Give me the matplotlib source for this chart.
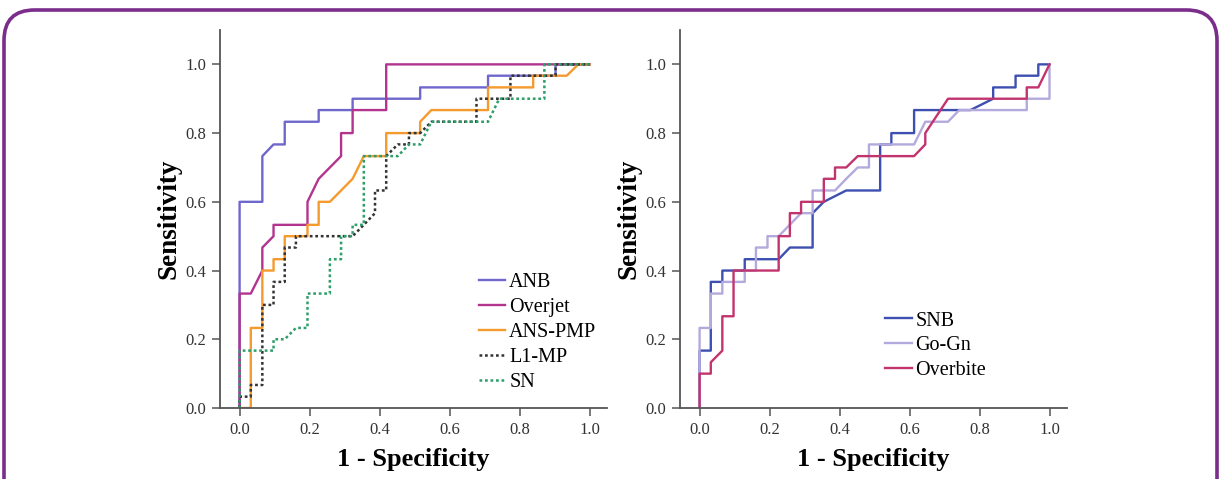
import matplotlib
matplotlib.use('Agg')
import matplotlib.pyplot as plt
from matplotlib.patches import FancyBboxPatch

plt.rcParams['font.family'] = ['Liberation Serif', 'DejaVu Serif']

# left panel: ROC points (1 - specificity, sensitivity)
anb_fpr = [0, 0, 0.065, 0.065, 0.097, 0.129, 0.129, 0.226, 0.226, 0.323, 0.323, 0.516, 0.516, 0.710, 0.710, 0.903, 0.903, 1.0]
anb_tpr = [0, 0.6, 0.6, 0.733, 0.767, 0.767, 0.833, 0.833, 0.867, 0.867, 0.9, 0.9, 0.933, 0.933, 0.967, 0.967, 1.0, 1.0]

overjet_fpr = [0, 0, 0.032, 0.065, 0.065, 0.097, 0.097, 0.194, 0.194, 0.226, 0.290, 0.290, 0.323, 0.323, 0.419, 0.419, 1.0]
overjet_tpr = [0, 0.333, 0.333, 0.4, 0.467, 0.5, 0.533, 0.533, 0.6, 0.667, 0.733, 0.8, 0.8, 0.867, 0.867, 1.0, 1.0]

anspmp_fpr = [0, 0.032, 0.032, 0.065, 0.065, 0.097, 0.097, 0.129, 0.129, 0.194, 0.194, 0.226, 0.226, 0.258,
              0.323, 0.355, 0.419, 0.419, 0.516, 0.516, 0.548, 0.710, 0.710, 0.839, 0.839, 0.935, 0.968, 1.0]
anspmp_tpr = [0, 0, 0.233, 0.233, 0.4, 0.4, 0.433, 0.433, 0.5, 0.5, 0.533, 0.533, 0.6, 0.6,
              0.667, 0.733, 0.733, 0.8, 0.8, 0.833, 0.867, 0.867, 0.933, 0.933, 0.967, 0.967, 1.0, 1.0]

l1mp_fpr = [0, 0, 0.032, 0.032, 0.065, 0.065, 0.097, 0.097, 0.129, 0.129, 0.161, 0.161, 0.323, 0.355, 0.387,
            0.387, 0.419, 0.419, 0.452, 0.484, 0.484, 0.516, 0.548, 0.677, 0.677, 0.774, 0.774, 0.903, 0.903, 1.0]
l1mp_tpr = [0, 0.033, 0.033, 0.067, 0.067, 0.3, 0.3, 0.367, 0.367, 0.467, 0.467, 0.5, 0.5, 0.533, 0.567,
            0.633, 0.633, 0.733, 0.767, 0.767, 0.8, 0.8, 0.833, 0.833, 0.9, 0.9, 0.967, 0.967, 1.0, 1.0]

sn_fpr = [0, 0, 0.097, 0.097, 0.129, 0.161, 0.194, 0.194, 0.258, 0.258, 0.290, 0.290, 0.323, 0.323,
          0.355, 0.355, 0.452, 0.484, 0.516, 0.548, 0.710, 0.742, 0.871, 0.871, 1.0]
sn_tpr = [0, 0.167, 0.167, 0.2, 0.2, 0.233, 0.233, 0.333, 0.333, 0.433, 0.433, 0.5, 0.5, 0.533,
          0.533, 0.733, 0.733, 0.767, 0.767, 0.833, 0.833, 0.9, 0.9, 1.0, 1.0]

# right panel
snb_fpr = [0, 0, 0.032, 0.032, 0.065, 0.065, 0.129, 0.129, 0.226, 0.258, 0.323, 0.323, 0.355, 0.419,
           0.516, 0.516, 0.548, 0.548, 0.613, 0.613, 0.774, 0.839, 0.839, 0.903, 0.903, 0.968, 0.968, 1.0]
snb_tpr = [0, 0.167, 0.167, 0.367, 0.367, 0.4, 0.4, 0.433, 0.433, 0.467, 0.467, 0.567, 0.6, 0.633,
           0.633, 0.767, 0.767, 0.8, 0.8, 0.867, 0.867, 0.9, 0.933, 0.933, 0.967, 0.967, 1.0, 1.0]

gogn_fpr = [0, 0, 0.032, 0.032, 0.065, 0.065, 0.129, 0.129, 0.161, 0.161, 0.194, 0.194, 0.226, 0.290, 0.323,
            0.323, 0.387, 0.419, 0.452, 0.484, 0.484, 0.613, 0.645, 0.710, 0.742, 0.935, 0.935, 1.0, 1.0]
gogn_tpr = [0, 0.233, 0.233, 0.333, 0.333, 0.367, 0.367, 0.4, 0.4, 0.467, 0.467, 0.5, 0.5, 0.567, 0.567,
            0.633, 0.633, 0.667, 0.7, 0.7, 0.767, 0.767, 0.833, 0.833, 0.867, 0.867, 0.9, 0.9, 1.0]

overbite_fpr = [0, 0, 0.032, 0.032, 0.065, 0.065, 0.097, 0.097, 0.226, 0.226, 0.258, 0.258, 0.290, 0.290,
                0.355, 0.355, 0.387, 0.387, 0.419, 0.452, 0.613, 0.645, 0.645, 0.710, 0.935, 0.935, 0.968, 1.0]
overbite_tpr = [0, 0.1, 0.1, 0.133, 0.167, 0.267, 0.267, 0.4, 0.4, 0.5, 0.5, 0.567, 0.567, 0.6,
                0.6, 0.667, 0.667, 0.7, 0.7, 0.733, 0.733, 0.767, 0.8, 0.9, 0.9, 0.933, 0.933, 1.0]

ticks = [0.0, 0.2, 0.4, 0.6, 0.8, 1.0]
tick_labels = ['0.0', '0.2', '0.4', '0.6', '0.8', '1.0']

W, H = 1221, 479
fig = plt.figure(figsize=(W / 100, H / 100), dpi=100)

# rounded purple frame
frame = FancyBboxPatch((4 / W, -40 / H), 1213 / W, (H - 10 + 40) / H,
                       boxstyle='round,pad=0,rounding_size=0.025', transform=fig.transFigure,
                       fill=False, edgecolor='#7b2d8b', linewidth=2.6, mutation_aspect=W / H)
fig.patches.append(frame)

ax1 = fig.add_axes([220 / W, (H - 408) / H, 387 / W, 378 / H])
ax2 = fig.add_axes([680 / W, (H - 408) / H, 387 / W, 378 / H])

dot = (0, (1.1, 1.1))
ax1.plot(anb_fpr, anb_tpr, color='#6f67cc', lw=1.7, label='ANB')
ax1.plot(overjet_fpr, overjet_tpr, color='#b3348f', lw=1.7, label='Overjet')
ax1.plot(anspmp_fpr, anspmp_tpr, color='#f59a2c', lw=1.7, label='ANS-PMP')
ax1.plot(l1mp_fpr, l1mp_tpr, color='#333333', lw=1.8, ls=dot, label='L1-MP')
ax1.plot(sn_fpr, sn_tpr, color='#2e9e6a', lw=1.8, ls=dot, label='SN')

ax2.plot(snb_fpr, snb_tpr, color='#3d4fb0', lw=1.7, label='SNB')
ax2.plot(gogn_fpr, gogn_tpr, color='#b4a9dc', lw=1.7, label='Go-Gn')
ax2.plot(overbite_fpr, overbite_tpr, color='#c2346e', lw=1.7, label='Overbite')

for ax in (ax1, ax2):
    ax.set_xlim(-0.056, 1.05)
    ax.set_ylim(0, 1.1)
    ax.set_xticks(ticks)
    ax.set_xticklabels(tick_labels)
    ax.set_yticks(ticks)
    ax.set_yticklabels(tick_labels)
    ax.spines['top'].set_visible(False)
    ax.spines['right'].set_visible(False)
    for s in ('left', 'bottom'):
        ax.spines[s].set_color('#555555')
        ax.spines[s].set_linewidth(1.3)
    ax.tick_params(direction='out', length=6, width=1.1, color='#555555',
                   labelsize=12, labelcolor='#333333', pad=4)
    ax.set_xlabel('1 - Specificity', fontsize=19, fontweight='bold', labelpad=7)
    ax.set_ylabel('Sensitivity', fontsize=19.5, fontweight='bold', labelpad=3)
    ax.patch.set_alpha(0)

ax1.legend(loc='upper left', bbox_to_anchor=(0.684, 0.392), bbox_transform=ax1.transData,
           frameon=False, fontsize=14.5, handlelength=1.3, handletextpad=0.2,
           labelspacing=0.29, borderpad=0, borderaxespad=0)
ax2.legend(loc='upper left', bbox_to_anchor=(0.531, 0.281), bbox_transform=ax2.transData,
           frameon=False, fontsize=14.5, handlelength=1.3, handletextpad=0.2,
           labelspacing=0.29, borderpad=0, borderaxespad=0)

fig.savefig('out.png', dpi=100)
